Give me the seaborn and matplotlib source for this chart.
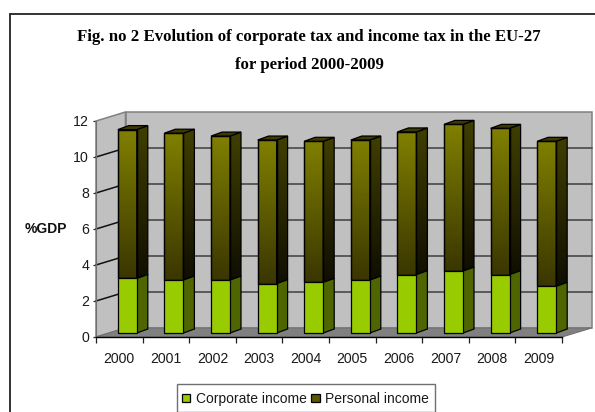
import numpy as np
import matplotlib
matplotlib.use("Agg")
import matplotlib.pyplot as plt
from matplotlib.colors import LinearSegmentedColormap
from matplotlib.lines import Line2D
from matplotlib.patches import Patch, Polygon, Rectangle
import pandas as pd
import seaborn as sns

years = ["2000", "2001", "2002", "2003", "2004", "2005", "2006", "2007", "2008", "2009"]
corporate_income = [3.03, 2.94, 2.94, 2.74, 2.81, 2.94, 3.24, 3.44, 3.24, 2.59]
personal_income = [8.27, 8.16, 8.00, 7.98, 7.84, 7.78, 7.93, 8.15, 8.13, 8.06]
y_ticks = [0, 2, 4, 6, 8, 10, 12]

title_lines = ["Fig. no 2 Evolution of corporate tax and income tax in the EU-27",
               "for period 2000-2009"]

sns.set_style("white")
plt.rcParams["font.family"] = ["Liberation Sans", "DejaVu Sans"]

W, H = 595, 412
fig = plt.figure(figsize=(W / 100, H / 100), dpi=100)
ax = fig.add_axes([96 / W, (H - 337) / H, 466 / W, 216 / H])

# Unit sizes of the pseudo-3D projection, in data coordinates
UX, UY = 46.6, 18.0
wall_dx, wall_dy = 29.5 / UX, 9 / UY     # depth of the box
bar_shift, bar_base = 8 / UX, 4 / UY     # bars stand inside the floor
bar_width = 19 / UX
side_dx, side_dy = 11 / UX, 4 / UY       # depth of a bar

df = pd.DataFrame({"year": years, "corporate": corporate_income, "personal": personal_income})
df["top"] = df["corporate"] + df["personal"]

x0, x1 = -0.5, 9.5
ax.set_xlim(x0, x1)
ax.set_ylim(0, 12)


def face(points, color, z, edge="#000000", lw=0.9):
    poly = Polygon(points, closed=True, facecolor=color, edgecolor=edge, linewidth=lw,
                   zorder=z, clip_on=False)
    ax.add_patch(poly)
    return poly


def gradient_face(points, top_color, bottom_color, z):
    """Fill a polygon with a vertical colour ramp and outline it."""
    cmap = LinearSegmentedColormap.from_list("ramp", [top_color, bottom_color])
    xs, ys = zip(*points)
    mask = Polygon(points, closed=True, transform=ax.transData, facecolor="none",
                   edgecolor="#000000", linewidth=0.9, zorder=z + 0.1, clip_on=False)
    ax.add_patch(mask)
    im = ax.imshow(np.linspace(0, 1, 128).reshape(-1, 1), cmap=cmap, aspect="auto",
                   extent=(min(xs), max(xs), min(ys), max(ys)), origin="upper", zorder=z)
    im.set_clip_box(fig.bbox)
    im.set_clip_path(mask)


# Walls and floor of the box
face([(x0 + wall_dx, wall_dy), (x1 + wall_dx, wall_dy), (x1 + wall_dx, 12 + wall_dy),
      (x0 + wall_dx, 12 + wall_dy)], "#c0c0c0", 1, edge="#808080", lw=1.1)
face([(x0, 0), (x0 + wall_dx, wall_dy), (x0 + wall_dx, 12 + wall_dy), (x0, 12)],
     "#c0c0c0", 1, edge="#808080", lw=1.1)
face([(x0, 0), (x1, 0), (x1 + wall_dx, wall_dy), (x0 + wall_dx, wall_dy)],
     "#808080", 1.5, edge="#707070", lw=0.8)

# Gridlines run along the back wall and fold onto the left wall
for v in y_ticks[1:-1]:
    ax.plot([x0 + wall_dx, x1 + wall_dx], [v + wall_dy] * 2, color="#484848", lw=1.2,
            zorder=2, clip_on=False)
    ax.plot([x0, x0 + wall_dx], [v, v + wall_dy], color="#101010", lw=1.1, zorder=2, clip_on=False)

# Front faces of the stacked columns
sns.barplot(data=df, x="year", y="personal", bottom=df["corporate"] + bar_base, width=bar_width,
            color="#808000", edgecolor="#000000", linewidth=0.9, saturation=1, zorder=4,
            ax=ax, errorbar=None)
sns.barplot(data=df, x="year", y="corporate", bottom=bar_base, width=bar_width,
            color="#99cc00", edgecolor="#000000", linewidth=0.9, saturation=1, zorder=5,
            ax=ax, errorbar=None)

for p in ax.patches:
    if isinstance(p, matplotlib.patches.Rectangle):
        p.set_x(p.get_x() + bar_shift)
for i, p in enumerate(ax.containers[0]):
    p.set_facecolor("none")

for i, (c, t) in enumerate(zip(df["corporate"], df["top"])):
    left = i - bar_width / 2 + bar_shift
    right = left + bar_width
    c_y, t_y = c + bar_base, t + bar_base
    # personal income: front and side colour ramps, dark top cap
    gradient_face([(left, c_y), (right, c_y), (right, t_y), (left, t_y)], "#808000", "#3a3600", 3)
    gradient_face([(right, c_y), (right + side_dx, c_y + side_dy), (right + side_dx, t_y + side_dy),
                   (right, t_y)], "#403f00", "#100e00", 3)
    face([(left, t_y), (right, t_y), (right + side_dx, t_y + side_dy), (left + side_dx, t_y + side_dy)],
         "#3c3a00", 3.5)
    # corporate income: flat side face
    face([(right, bar_base), (right + side_dx, bar_base + side_dy), (right + side_dx, c_y + side_dy),
          (right, c_y)], "#4f6600", 3.5)

ax.set_xlim(x0, x1)
ax.set_ylim(0, 12)

# Axes, ticks and labels
ax.set_xlabel("")
ax.set_ylabel("")
ax.set_yticks(y_ticks)
ax.tick_params(axis="y", left=True, length=2, width=0.9, color="#202020", pad=3, labelsize=10.2,
               labelcolor="#1a1a1a")
ax.tick_params(axis="x", which="major", bottom=False, pad=7.5, labelsize=10.2, labelcolor="#1a1a1a")
ax.set_xticks(np.arange(-0.5, 10, 1), minor=True)
ax.tick_params(axis="x", which="minor", bottom=True, length=4, width=0.9, color="#202020")
for side in ("top", "right"):
    ax.spines[side].set_visible(False)
ax.spines["left"].set_color("#707070")
ax.spines["bottom"].set_color("#000000")
ax.spines["bottom"].set_linewidth(1.0)
ax.patch.set_alpha(0)

fig.text(45.5 / W, 1 - 229 / H, "%GDP", ha="center", va="center", fontsize=10,
         fontweight="bold", color="#111111")

for line, py in zip(title_lines, (37, 65)):
    fig.text(309 / W, 1 - py / H, line, ha="center", va="center", fontsize=12.1, fontweight="bold",
             family=["Liberation Serif", "DejaVu Serif"], color="#000000")

# Legend frame runs off the lower edge of the page
fig.add_artist(Rectangle((177 / W, 0), 258 / W, 1 - 383.5 / H, transform=fig.transFigure,
                         facecolor="white", edgecolor="#707070", linewidth=1.0, zorder=1))
handles = [Patch(facecolor="#99cc00", edgecolor="#000000", linewidth=0.9, label="Corporate income"),
           Patch(facecolor="#5c5800", edgecolor="#000000", linewidth=0.9, label="Personal income")]
leg = fig.legend(handles=handles, loc="center", bbox_to_anchor=(305.5 / W, 1 - 398.9 / H), ncol=2,
                 fontsize=10, frameon=False,
                 handlelength=0.6, handleheight=0.6, handletextpad=0.4, columnspacing=0.35,
                 borderpad=0, borderaxespad=0)
leg.set_zorder(2)
for text in leg.get_texts():
    text.set_color("#1a1a1a")

# Page frame: only the top and left rules fall on the page
fig.add_artist(Line2D([10 / W, 10 / W], [0, 1 - 13.5 / H], color="#222222", lw=1.3))
fig.add_artist(Line2D([10 / W, 1], [1 - 13.5 / H] * 2, color="#222222", lw=1.3))

fig.savefig("out.png", dpi=100, facecolor="white")
